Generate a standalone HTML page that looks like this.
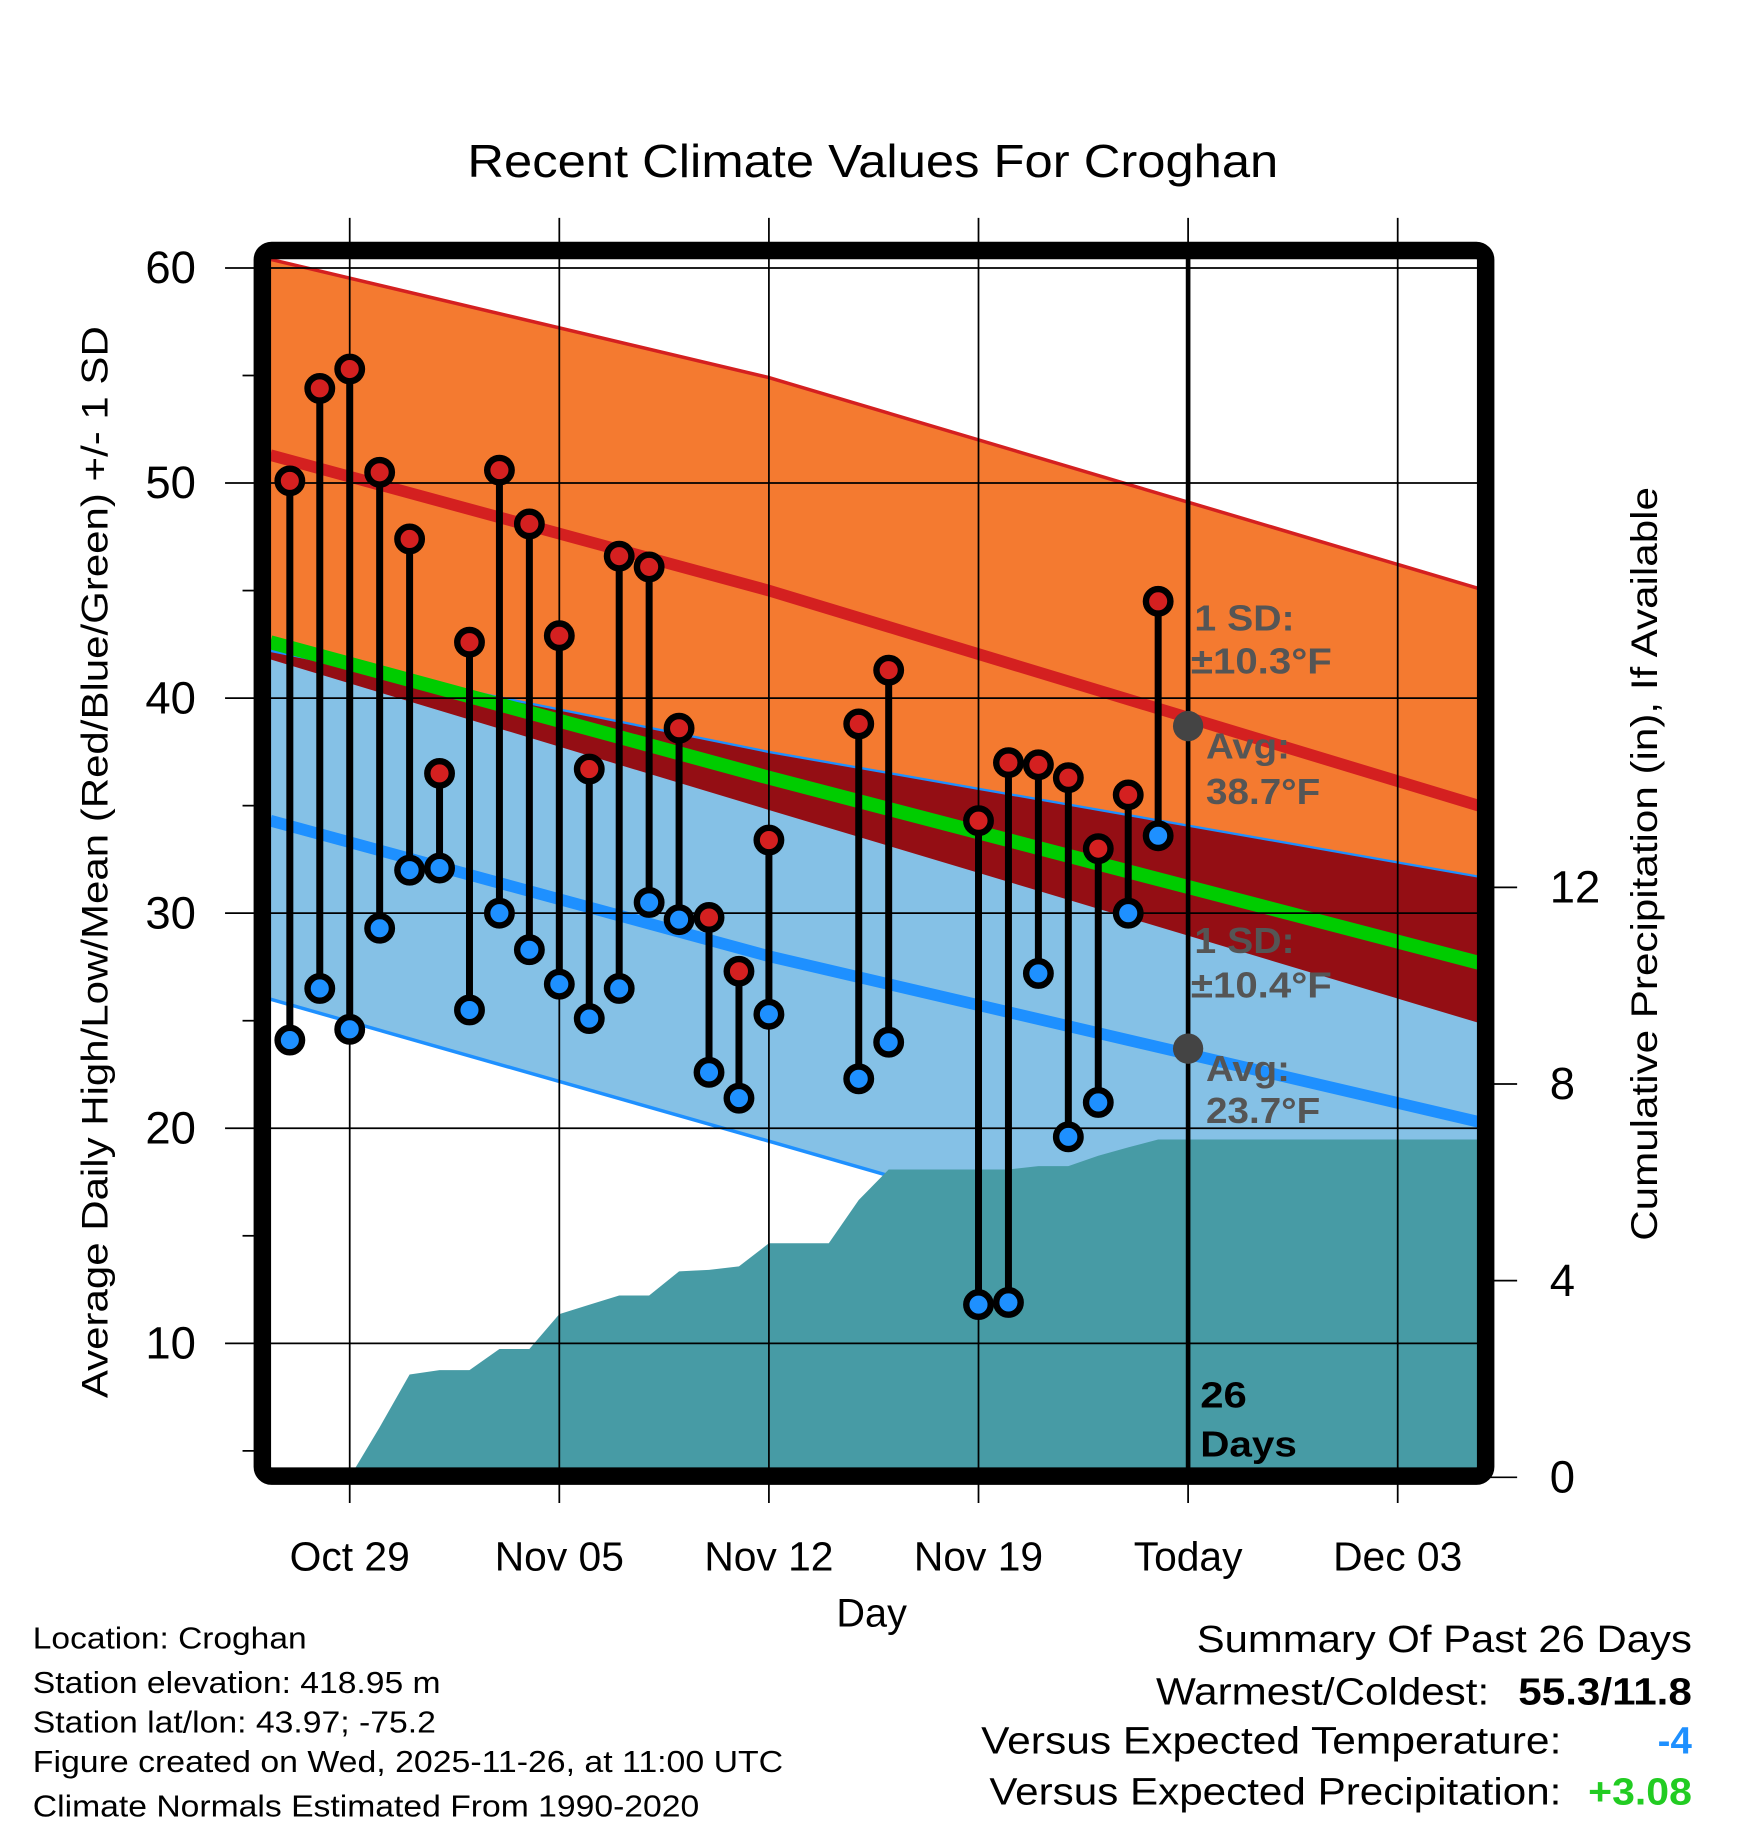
<!DOCTYPE html>
<html><head><meta charset="utf-8"><style>
html,body{margin:0;padding:0;background:#fff;}
svg{display:block;font-family:"Liberation Sans",sans-serif;}
</style></head><body>
<svg id="chart" width="1748" height="1828" viewBox="0 0 1500 1569" xmlns="http://www.w3.org/2000/svg">
<defs><clipPath id="plotclip"><rect x="232" y="222" width="1036" height="1038"/></clipPath></defs>
<g id="bands" clip-path="url(#plotclip)"></g>
<g id="grid"></g>
<g id="marks"></g>
<rect x="225" y="215" width="1050" height="1052" rx="8" fill="none" stroke="#000" stroke-width="15"/>
<text x="401" y="152" font-size="40" textLength="696" lengthAdjust="spacingAndGlyphs">Recent Climate Values For Croghan</text>
<text x="748" y="1396" font-size="34" text-anchor="middle">Day</text>
<text transform="translate(92,1200) rotate(-90)" font-size="32" textLength="920" lengthAdjust="spacingAndGlyphs">Average Daily High/Low/Mean (Red/Blue/Green) +/- 1 SD</text>
<text transform="translate(1422,1065) rotate(-90)" font-size="32" textLength="647" lengthAdjust="spacingAndGlyphs">Cumulative Precipitation (in), If Available</text>
<g font-size="26">
<text x="28" y="1415" textLength="235" lengthAdjust="spacingAndGlyphs">Location: Croghan</text>
<text x="28" y="1453" textLength="350" lengthAdjust="spacingAndGlyphs">Station elevation: 418.95 m</text>
<text x="28" y="1487" textLength="346" lengthAdjust="spacingAndGlyphs">Station lat/lon: 43.97; -75.2</text>
<text x="28" y="1521" textLength="644" lengthAdjust="spacingAndGlyphs">Figure created on Wed, 2025-11-26, at 11:00 UTC</text>
<text x="28" y="1559" textLength="572" lengthAdjust="spacingAndGlyphs">Climate Normals Estimated From 1990-2020</text>
</g>
<g font-size="33">
<text x="1027" y="1418" textLength="425" lengthAdjust="spacingAndGlyphs">Summary Of Past 26 Days</text>
<text x="992" y="1463" textLength="286" lengthAdjust="spacingAndGlyphs">Warmest/Coldest:</text>
<text x="1303" y="1463" font-weight="bold" textLength="149" lengthAdjust="spacingAndGlyphs">55.3/11.8</text>
<text x="842" y="1505" textLength="498" lengthAdjust="spacingAndGlyphs">Versus Expected Temperature:</text>
<text x="1452" y="1505" font-weight="bold" fill="#1e90ff" text-anchor="end">-4</text>
<text x="849" y="1549" textLength="491" lengthAdjust="spacingAndGlyphs">Versus Expected Precipitation:</text>
<text x="1363" y="1549" font-weight="bold" fill="#22cc22" textLength="89" lengthAdjust="spacingAndGlyphs">+3.08</text>
</g>
<script>
// data
const dayOffsets=[-2,-1,0,1,2,3,4,5,6,7,8,9,10,11,12,13,14,17,18,21,22,23,24,25,26,27];
const highs=[50.1,54.4,55.3,50.5,47.4,36.5,42.6,50.6,48.1,42.9,36.7,46.6,46.1,38.6,29.8,27.3,33.4,38.8,41.3,34.3,37.0,36.9,36.3,33.0,35.5,44.5];
const lows=[24.1,26.5,24.6,29.3,32.0,32.1,25.5,30.0,28.3,26.7,25.1,26.5,30.5,29.7,22.6,21.4,25.3,22.3,24.0,11.8,11.9,27.2,19.6,21.2,30.0,33.6];
const normDays=[-2.65,14,37.7];
const normHighPlusSD=[60.4,54.9,45.1];
const normHigh=[51.3,45.0,35.0];
const normHighMinusSD=[41.8,34.8,24.9];
const normLowPlusSD=[42.2,37.5,31.7];
const normMean=[42.6,36.3,27.7];
const normLow=[34.3,28.0,20.3];
const normLowMinusSD=[26.0,19.4,9.9];
const precipDays=[-2,-1,0,1,2,3,4,5,6,7,8,9,10,11,12,13,14,15,16,17,18,19,20,21,22,23,24,25,26,27,28,37.7];
const precip=[0,0,0,1.02,2.09,2.18,2.18,2.61,2.61,3.32,3.51,3.70,3.70,4.19,4.22,4.29,4.76,4.76,4.76,5.64,6.26,6.26,6.26,6.26,6.26,6.33,6.33,6.54,6.71,6.87,6.87,6.87];
const yTicks=[10,20,30,40,50,60];
const pTicks=[0,4,8,12];
const xTickDays=[0,7,14,21,28,35];
const xTickLabels=["Oct 29","Nov 05","Nov 12","Nov 19","Today","Dec 03"];

const X=d=>300+25.7*d;
const Y=v=>230+(60-v)*18.46;
const P=p=>1268-p*42.2;
const NS="http://www.w3.org/2000/svg";
function mk(parent,tag,attrs){const e=document.createElementNS(NS,tag);for(const k in attrs)e.setAttribute(k,attrs[k]);parent.appendChild(e);return e;}
function pts(ds,vs){return ds.map((d,i)=>X(d).toFixed(1)+","+Y(vs[i]).toFixed(1));}
function band(a,b){return pts(normDays,a).concat(pts(normDays,b).reverse()).join(" ");}
const bands=document.getElementById('bands');
let e;
e=mk(bands,'polygon',{points:band(normHighPlusSD,normHighMinusSD),fill:'#f47a30'});


e=mk(bands,'polygon',{points:band(normLowPlusSD,normLowMinusSD),fill:'#85c1e6'});


e=mk(bands,'polygon',{points:band(normLowPlusSD,normHighMinusSD),fill:'#940e14'});


const lines=[[normHighPlusSD,'#d42020',3,'high-plus-sd-line'],[normLowPlusSD,'#1e90ff',2,'low-plus-sd-line'],[normLowMinusSD,'#1e90ff',3,'low-minus-sd-line'],[normHigh,'#d42020',10,'normal-high-line'],[normMean,'#00cc00',12,'normal-mean-line'],[normLow,'#1e90ff',10,'normal-low-line']];
lines.forEach(l=>{e=mk(bands,'polyline',{points:pts(normDays,l[0]).join(" "),fill:'none',stroke:l[1],'stroke-width':l[2]});

});
// precip
const pp=precipDays.map((d,i)=>X(d).toFixed(1)+","+P(precip[i]).toFixed(1));
pp.push(X(37.7)+","+1270);pp.push(X(-2.65)+","+1270);
e=mk(bands,'polygon',{points:pp.join(" "),fill:'#479ba5'});


// grid
const grid=document.getElementById('grid');
yTicks.forEach(v=>{e=mk(grid,'line',{x1:193,x2:1268,y1:Y(v),y2:Y(v),stroke:'#000','stroke-width':1.5});


e=mk(grid,'text',{x:168,y:Y(v)+13,'font-size':39,'text-anchor':'end'});e.textContent=v;

});
for(let v=5;v<=55;v+=10){e=mk(grid,'line',{x1:208,x2:220,y1:Y(v),y2:Y(v),stroke:'#000','stroke-width':1.5});

}
pTicks.forEach(p=>{e=mk(grid,'line',{x1:1268,x2:1302,y1:P(p),y2:P(p),stroke:'#000','stroke-width':1.5});


e=mk(grid,'text',{x:1330,y:P(p)+13,'font-size':39});e.textContent=p;

});
xTickDays.forEach((d,i)=>{e=mk(grid,'line',{x1:X(d),x2:X(d),y1:187,y2:1290,stroke:'#000','stroke-width':1.5});


e=mk(grid,'text',{x:X(d),y:1348,'font-size':35,'text-anchor':'middle'});e.textContent=xTickLabels[i];

});
// marks
const marks=document.getElementById('marks');
e=mk(marks,'line',{x1:X(28),x2:X(28),y1:222,y2:1262,stroke:'#000','stroke-width':4});


dayOffsets.forEach((d,i)=>{const x=X(d);
e=mk(marks,'line',{x1:x,x2:x,y1:Y(highs[i]),y2:Y(lows[i]),stroke:'#000','stroke-width':6});


e=mk(marks,'circle',{cx:x,cy:Y(highs[i]),r:10.5,fill:'#d42020',stroke:'#000','stroke-width':5.5});


e=mk(marks,'circle',{cx:x,cy:Y(lows[i]),r:10.5,fill:'#1e90ff',stroke:'#000','stroke-width':5.5});

});
e=mk(marks,'circle',{cx:X(28),cy:Y(38.7),r:13,fill:'#444'});


e=mk(marks,'circle',{cx:X(28),cy:Y(23.7),r:13,fill:'#444'});


const ann=[[1025,541,'1 SD:','#555',86],[1022,578,'±10.3°F','#555',121],[1035,651,'Avg:','#555',72],[1035,690,'38.7°F','#555',98],[1025,818,'1 SD:','#555',86],[1022,856,'±10.4°F','#555',121],[1035,928,'Avg:','#555',72],[1035,964,'23.7°F','#555',98],[1030,1208,'26','#000',40],[1030,1250,'Days','#000',83]];
ann.forEach(a=>{e=mk(marks,'text',{x:a[0],y:a[1],'font-size':31,'font-weight':'bold',fill:a[3],textLength:a[4],lengthAdjust:'spacingAndGlyphs'});e.textContent=a[2];

});
</script>
</svg>
</body></html>
